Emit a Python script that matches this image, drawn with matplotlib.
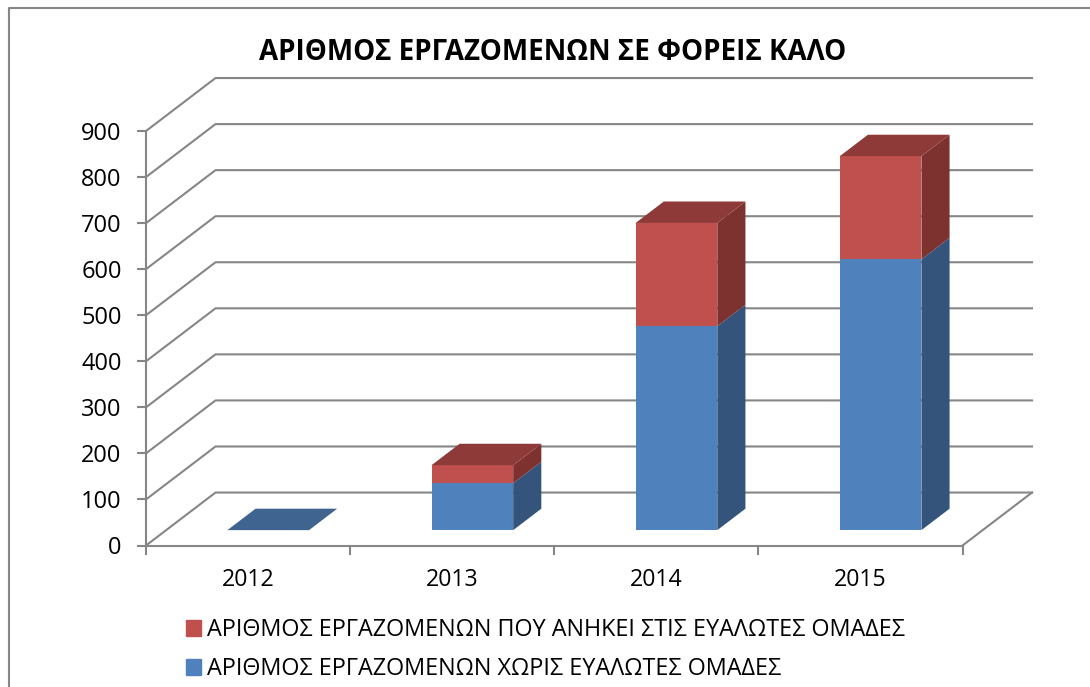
import matplotlib
matplotlib.use('Agg')
import matplotlib.pyplot as plt
from matplotlib.lines import Line2D
from matplotlib.patches import Patch

plt.rcParams['font.family'] = ['Open Sans', 'DejaVu Sans']

years = ['2012', '2013', '2014', '2015']
without_groups = [0, 102, 443, 588]
vulnerable = [0, 39, 224, 224]
y_ticks = [0, 100, 200, 300, 400, 500, 600, 700, 800, 900]

title = 'ΑΡΙΘΜΟΣ ΕΡΓΑΖΟΜΕΝΩΝ ΣΕ ΦΟΡΕΙΣ ΚΑΛΟ'
label_without = 'ΑΡΙΘΜΟΣ ΕΡΓΑΖΟΜΕΝΩΝ ΧΩΡΙΣ ΕΥΑΛΩΤΕΣ ΟΜΑΔΕΣ'
label_vulnerable = 'ΑΡΙΘΜΟΣ ΕΡΓΑΖΟΜΕΝΩΝ ΠΟΥ ΑΝΗΚΕΙ ΣΤΙΣ ΕΥΑΛΩΤΕΣ ΟΜΑΔΕΣ'

GREY = '#868686'
BLUE = '#4f81bd'
BLUE_SIDE = '#34547b'
BLUE_TOP = '#3f6490'
RED = '#c0504d'
RED_SIDE = '#7d3230'
RED_TOP = '#8e3a38'

W, H = 1090, 687
# oblique projection, how far one unit of depth moves a point on the axes
DEPTH_X = 69.5 / 204.1
DEPTH_Y = 115
BAR_WIDTH = 0.4
BAR_FRONT = 0.29
BAR_BACK = 0.695


def proj(x, v, d=0):
    return x + d * DEPTH_X, v + d * DEPTH_Y


def face(ax, corners, color, z):
    xs, ys = zip(*[proj(*c) for c in corners])
    ax.fill(xs, ys, color=color, lw=0, clip_on=False, zorder=z)


fig = plt.figure(figsize=(W / 100, H / 100), dpi=100)
ax = fig.add_axes([146 / W, 1 - 545.5 / H, 816.5 / W, 414.5 / H])
ax.set_xlim(0, len(years))
ax.set_ylim(0, 900)
ax.patch.set_visible(False)

for s in ['top', 'right']:
    ax.spines[s].set_visible(False)
for s in ['left', 'bottom']:
    ax.spines[s].set_color(GREY)
    ax.spines[s].set_linewidth(1.5)

# back wall and floor lines
for v in y_ticks:
    pts = [proj(0, v, 0), proj(0, v, 1), proj(len(years), v, 1)]
    ax.plot(*zip(*pts), color=GREY, lw=1.5, clip_on=False, zorder=1)
ax.plot(*zip(proj(len(years), 0, 0), proj(len(years), 0, 1)),
        color=GREY, lw=1.5, clip_on=False, zorder=1)

for i in range(len(years)):
    left = i + 0.5 - BAR_WIDTH / 2
    right = left + BAR_WIDTH
    base = 0
    for val, front, side in [(without_groups[i], BLUE, BLUE_SIDE),
                             (vulnerable[i], RED, RED_SIDE)]:
        if val > 0:
            top = base + val
            face(ax, [(left, base, BAR_FRONT), (right, base, BAR_FRONT),
                      (right, top, BAR_FRONT), (left, top, BAR_FRONT)], front, 3)
            face(ax, [(right, base, BAR_FRONT), (right, base, BAR_BACK),
                      (right, top, BAR_BACK), (right, top, BAR_FRONT)], side, 3)
            base = top
    top_color = RED_TOP if vulnerable[i] > 0 else BLUE_TOP
    face(ax, [(left, base, BAR_FRONT), (right, base, BAR_FRONT),
              (right, base, BAR_BACK), (left, base, BAR_BACK)], top_color, 3)

ax.set_yticks(y_ticks)
ax.set_xticks(range(len(years) + 1))
ax.set_xticklabels([])
ax.set_xticks([i + 0.5 for i in range(len(years))], labels=years, minor=True)
ax.tick_params(axis='y', length=6.5, width=1.5, color=GREY, labelsize=17, pad=11, labelcolor='black')
ax.tick_params(axis='x', which='major', length=6.5, width=1.5, color=GREY)
ax.tick_params(axis='x', which='minor', length=0, labelsize=16.7, pad=16.5, labelcolor='black')

fig.text(553 / W, 1 - 53 / H, title, ha='center', va='center',
         fontsize=20, fontweight='bold', color='black')

handles = [Patch(color=RED, label=label_vulnerable), Patch(color=BLUE, label=label_without)]
fig.legend(handles=handles, loc='upper left', bbox_to_anchor=(186 / W, 1 - 618 / H),
           frameon=False, fontsize=16.85, handlelength=0.65, handleheight=0.65,
           handletextpad=0.26, labelspacing=0.64, borderpad=0, borderaxespad=0)

# outer frame of the chart, cut off at the right and bottom
fig.add_artist(Line2D([8.5 / W, 8.5 / W, 1], [0, 1 - 7.5 / H, 1 - 7.5 / H],
                      color=GREY, lw=1.5, transform=fig.transFigure))

fig.savefig('out.png', dpi=100)
